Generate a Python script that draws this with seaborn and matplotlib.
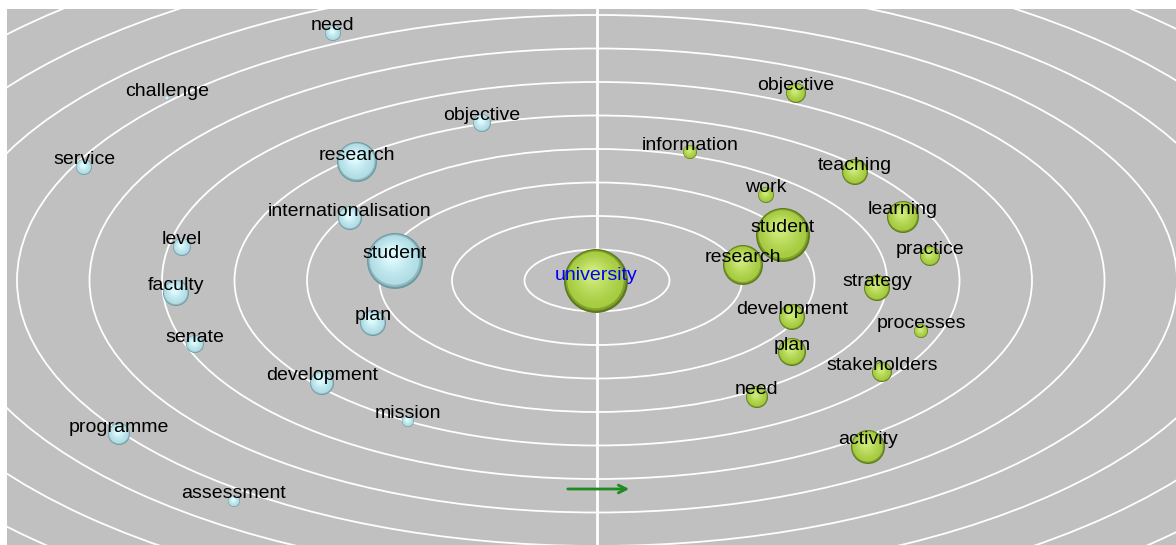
import numpy as np
import pandas as pd
import seaborn as sns
import matplotlib.pyplot as plt
from matplotlib.patches import Ellipse

# Left cluster (light blue)
left_words = ["need", "challenge", "objective", "service", "research",
              "internationalisation", "level", "student", "faculty", "plan",
              "senate", "development", "mission", "programme", "assessment"]
left_x = [333, 167, 482, 84, 357, 350, 182, 395, 176, 373, 195, 322, 408, 119, 234]
left_y = [33, 98, 123, 167, 162, 218, 247, 261, 293, 323, 344, 383, 421, 434, 501]
left_r = [8, 2, 9, 8, 20, 12, 9, 28, 13, 13, 9, 12, 6, 11, 6]

# Right cluster (yellow-green)
right_words = ["objective", "information", "teaching", "work", "learning",
               "student", "practice", "research", "strategy", "development",
               "processes", "plan", "stakeholders", "need", "activity"]
right_x = [796, 690, 855, 766, 903, 783, 930, 743, 877, 792, 921, 792, 882, 757, 868]
right_y = [93, 152, 172, 195, 217, 235, 256, 265, 288, 317, 331, 352, 372, 397, 447]
right_r = [10, 7, 13, 8, 16, 27, 10, 20, 13, 13, 7, 14, 10, 11, 17]

# Centre term
center_word = "university"
center_x, center_y, center_r = 596, 281, 32

W, H = 1176, 545
CX, CY = 597, 280.5
n_rings = 13

sns.set_style("white")
fig = plt.figure(figsize=(W / 100, H / 100), dpi=100)
ax = fig.add_axes([7 / W, 0, 1 - 7 / W, (H - 9) / H])
ax.set_xlim(7, W)
ax.set_ylim(H, 9)
ax.axis("off")
ax.add_patch(plt.Rectangle((7, 9), W, H, color="#c0c0c0", zorder=0))

# concentric rings
for k in range(1, n_rings + 1):
    a = 72.5 * k
    b = 33.5 * k - 2.5
    ax.add_patch(Ellipse((CX, CY), 2 * a, 2 * b, fill=False,
                         edgecolor="white", lw=1.3, zorder=1))
ax.axvline(CX, color="white", lw=2, zorder=1)


def spheres(df, dark, mid, light, n=14):
    dark, mid, light = [np.array(plt.matplotlib.colors.to_rgb(c)) for c in (dark, mid, light)]
    for i in range(n):
        f = i / (n - 1)
        if f < 0.15:
            col = dark + (mid - dark) * (f / 0.15)
        else:
            col = mid + (light - mid) * ((f - 0.15) / 0.85) ** 1.3
        rad = df["r"] * (1 - 0.75 * f)
        dx = -0.12 * df["r"] * f
        dy = -0.22 * df["r"] * f
        sns.scatterplot(x=df["x"] + dx, y=df["y"] + dy, s=(1.44 * rad) ** 2,
                        color=col, linewidth=0, ax=ax, zorder=3 + i * 0.01,
                        legend=False)


left = pd.DataFrame({"word": left_words, "x": left_x, "y": left_y, "r": left_r})
right = pd.DataFrame({"word": right_words, "x": right_x, "y": right_y, "r": right_r})
centre = pd.DataFrame({"word": [center_word], "x": [center_x], "y": [center_y], "r": [center_r]})

spheres(left, "#6e9aa2", "#b2dde5", "#dcfafd")
spheres(pd.concat([right, centre]), "#5c7a1c", "#a6cc40", "#cce877")

font = dict(family=["Liberation Sans", "DejaVu Sans"], fontsize=14,
            ha="center", va="center", zorder=10)
for _, row in pd.concat([left, right]).iterrows():
    ax.text(row["x"], row["y"] - 7, row["word"], color="black", **font)
ax.text(center_x, center_y - 6, center_word, color="#0000ff", **font)

# direction arrow
ax.annotate("", xy=(632, 489), xytext=(565, 489),
            arrowprops=dict(arrowstyle="->", color="#1f8a1f", lw=2,
                            mutation_scale=14), zorder=5)

fig.savefig("out.png", dpi=100, facecolor="white")
